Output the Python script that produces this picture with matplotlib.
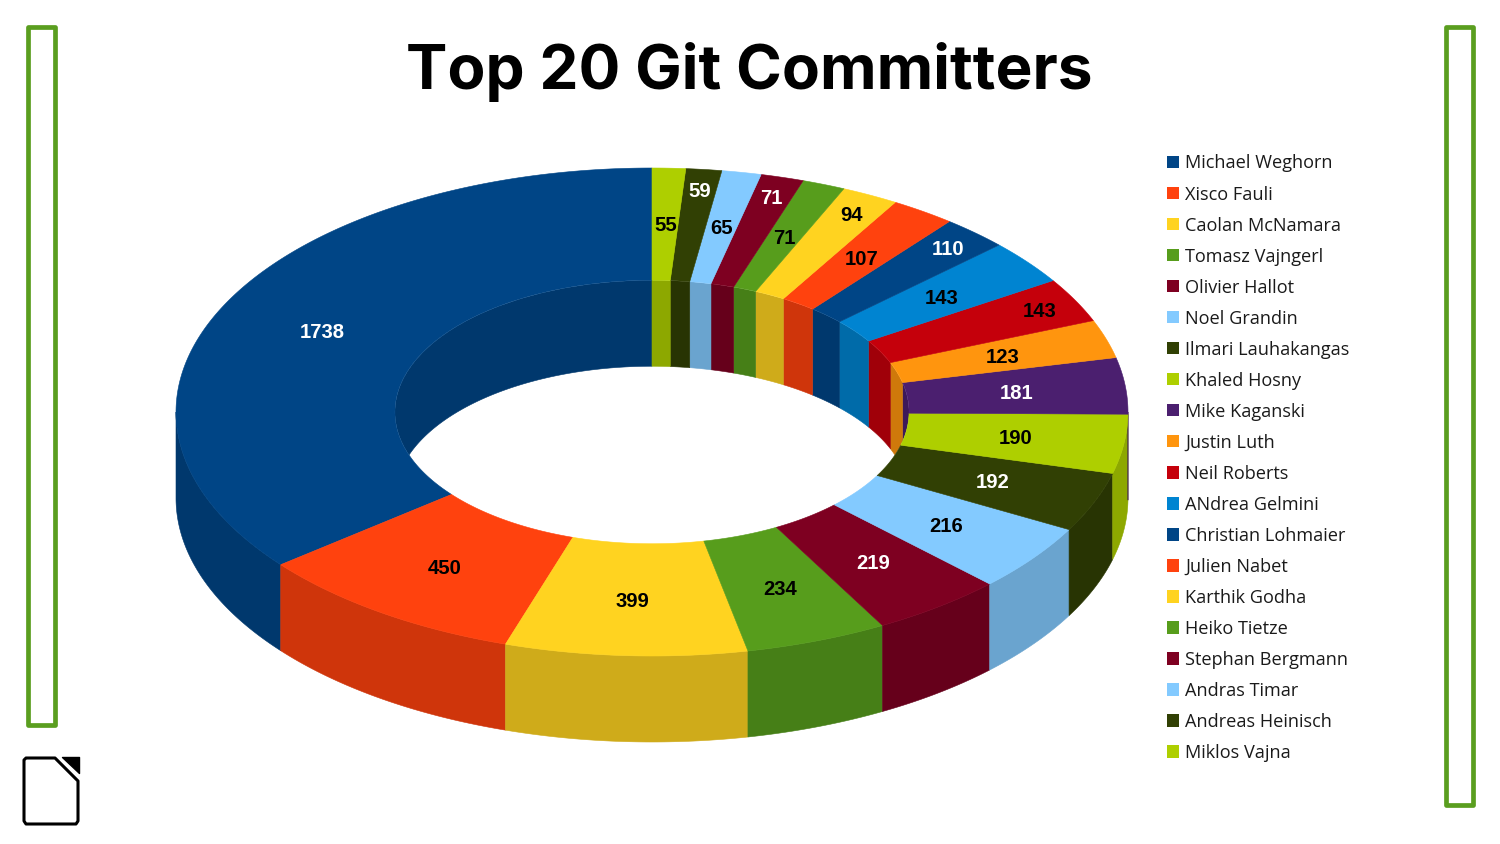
import numpy as np
import matplotlib
matplotlib.use("Agg")
import matplotlib.pyplot as plt
from matplotlib.patches import Ellipse, Rectangle, Polygon, Patch
from matplotlib.colors import to_rgb

names = ["Michael Weghorn", "Xisco Fauli", "Caolan McNamara", "Tomasz Vajngerl", "Olivier Hallot",
         "Noel Grandin", "Ilmari Lauhakangas", "Khaled Hosny", "Mike Kaganski", "Justin Luth",
         "Neil Roberts", "ANdrea Gelmini", "Christian Lohmaier", "Julien Nabet", "Karthik Godha",
         "Heiko Tietze", "Stephan Bergmann", "Andras Timar", "Andreas Heinisch", "Miklos Vajna"]
commits = [1738, 450, 399, 234, 219, 216, 192, 190, 181, 123, 143, 143, 110, 107, 94, 71, 71, 65, 59, 55]
palette = ["#004586", "#ff420e", "#ffd320", "#579d1c", "#7e0021", "#83caff",
           "#314004", "#aecf00", "#4b1f6f", "#ff950e", "#c5000b", "#0084d1"]
label_colors = ["white", "black", "black", "black", "white", "black", "white", "black", "white", "black",
                "black", "black", "white", "black", "black", "black", "white", "black", "white", "black"]
title = "Top 20 Git Committers"

# Narrow neighbouring slices whose value label is pushed towards the rim
rim_labels = {"Neil Roberts", "Christian Lohmaier", "Karthik Godha", "Stephan Bergmann", "Andreas Heinisch"}

CX, CY, RX, RY, DEPTH = 652, 412, 476, 244, 86
HOLE = 0.54
SHADE = 0.81

fig = plt.figure(figsize=(15, 8.44), dpi=100)
ax = fig.add_axes([0, 0, 1, 1])
ax.set_xlim(0, 1500)
ax.set_ylim(844, 0)
ax.axis("off")


def ring(theta, scale=1.0, drop=0.0):
    return (CX + RX * scale * np.cos(theta), CY + drop - RY * scale * np.sin(theta))


def band(a0, a1, s0, d0, s1, d1):
    t = np.linspace(a0, a1, max(int(abs(a1 - a0) * 200), 3))
    x0, y0 = ring(t, s0, d0)
    x1, y1 = ring(t[::-1], s1, d1)
    return np.r_[x0, x1], np.r_[y0, y1]


fractions = np.array(commits) / sum(commits)
bounds = np.pi / 2 + 2 * np.pi * np.r_[0, np.cumsum(fractions)]
hole_clip = Ellipse((CX, CY), 2 * RX * HOLE, 2 * RY * HOLE, transform=ax.transData)

for i, value in enumerate(commits):
    a0, a1 = bounds[i], bounds[i + 1]
    col = palette[i % len(palette)]
    side = tuple(c * SHADE for c in to_rgb(col))
    # Outer wall: the part of the slice on the near side
    lo, hi = max(a0, np.pi), min(a1, 2 * np.pi)
    if hi > lo:
        x, y = band(lo, hi, 1, 0, 1, DEPTH)
        ax.fill(x, y, color=side, lw=0.4, zorder=2)
    # Inner wall: the part on the far side, seen through the hole
    for shift in (0, 2 * np.pi):
        lo, hi = max(a0, shift), min(a1, shift + np.pi)
        if hi > lo:
            x, y = band(lo, hi, HOLE, 0, HOLE, DEPTH)
            for p in ax.fill(x, y, color=side, lw=0.4, zorder=2):
                p.set_clip_path(hole_clip)
    # Top surface
    x, y = band(a0, a1, 1, 0, HOLE, 0)
    ax.fill(x, y, color=col, lw=0.4, zorder=3)
    # Value label
    mid = (a0 + a1) / 2
    radial = 0.915 if names[i] in rim_labels else (1 + HOLE) / 2
    lx, ly = ring(mid, radial)
    ax.text(lx + 0.5, ly + 1.5, str(value), ha="center", va="center", color=label_colors[i],
            fontsize=14.6, fontweight="bold", family="Liberation Sans", zorder=5)

ax.text(749.5, 66, title, ha="center", va="center_baseline", fontsize=44.7, fontweight="bold",
        family="Inter", color="black", zorder=5)

handles = [Patch(facecolor=palette[i % len(palette)], label=n) for i, n in enumerate(names)]
ax.legend(handles=handles, loc="upper left", bbox_to_anchor=(1167 / 1500, 1 - 154.5 / 844),
          bbox_transform=ax.transAxes, frameon=False, ncol=1, borderpad=0, borderaxespad=0,
          prop={"family": "Open Sans", "size": 13.1}, handlelength=0.66, handleheight=0.66,
          handletextpad=0.33, labelspacing=0.716, labelcolor="#1a1a1a")

GREEN = "#5a9e1f"
for (x0, y0, x1, y1) in [(28, 27, 55, 725), (1446, 27, 1473, 805)]:
    ax.add_patch(Rectangle((x0, y0), x1 - x0, y1 - y0, fill=False, edgecolor=GREEN, lw=3.4,
                           joinstyle="round", zorder=4))

ax.add_patch(Polygon([(24, 760), (26, 758), (55, 758), (78, 781), (78, 821), (76, 824), (26, 824), (24, 821)],
                     closed=True, facecolor="white", edgecolor="black", lw=2.2, joinstyle="round", zorder=4))
ax.add_patch(Polygon([(62, 756.5), (78.5, 756.5), (78.5, 773)], closed=True, facecolor="black", edgecolor="black",
                     lw=1, joinstyle="round", zorder=4))

fig.savefig("out.png", dpi=100, facecolor="white")
